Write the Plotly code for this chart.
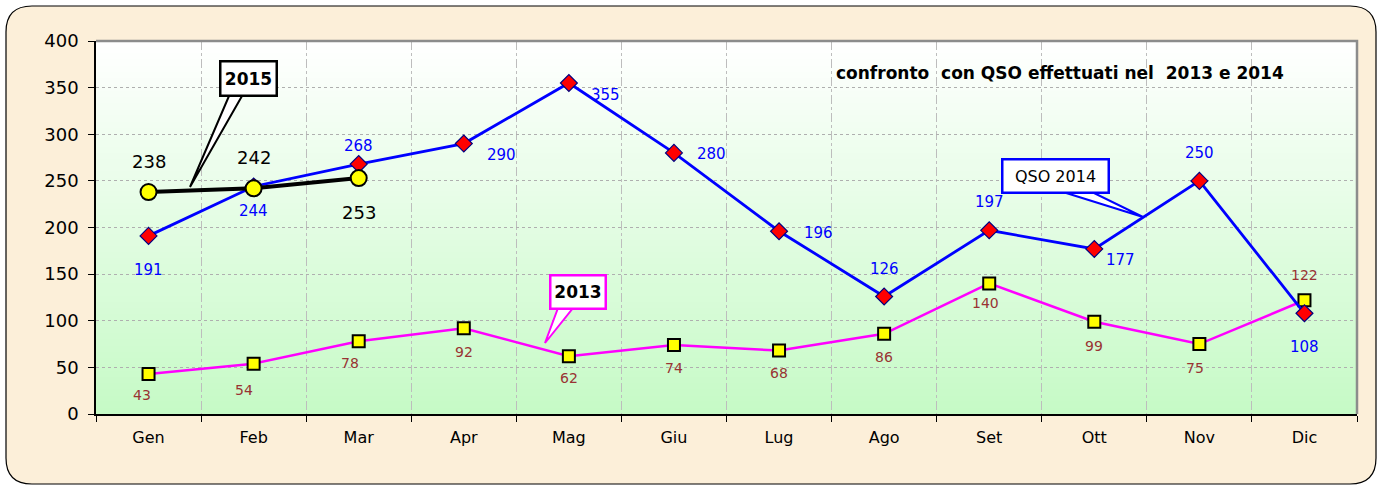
import plotly.graph_objects as go

months = ["Gen", "Feb", "Mar", "Apr", "Mag", "Giu", "Lug", "Ago", "Set", "Ott", "Nov", "Dic"]
qso_2014 = [191, 244, 268, 290, 355, 280, 196, 126, 197, 177, 250, 108]
qso_2013 = [43, 54, 78, 92, 62, 74, 68, 86, 140, 99, 75, 122]
months_2015 = ["Gen", "Feb", "Mar"]
qso_2015 = [238, 242, 253]
y_ticks = [0, 50, 100, 150, 200, 250, 300, 350, 400]

W, H = 1381, 486
L, R, T, B = 96, 24, 41, 72
PW, PH = W - L - R, H - T - B
FONT = "DejaVu Sans, Arial, sans-serif"


def px(x):
    return (x - L) / PW


def py(y):
    return (H - B - y) / PH


# label offsets (pixels) -- style only
off_2014 = [(0, -34), (0, -25), (0, 18), (38, -11), (37, -12), (38, -1),
            (39, -2), (0, 28), (0, 28), (26, -11), (0, 28), (0, -34)]
off_2013 = [(-7, -21), (-10, -26), (-9, -22), (0, -24), (0, -22), (0, -23),
            (0, -22), (0, -23), (-4, -20), (0, -24), (-4, -24), (0, 25)]
off_2015 = [(0, 31), (0, 31), (0, -34)]

fig = go.Figure()

fig.add_trace(go.Scatter(
    x=months, y=qso_2013, mode="lines+markers",
    line=dict(color="#FF00FF", width=2.5),
    marker=dict(symbol="square", size=12, color="#FFFF00", line=dict(color="black", width=2)),
    showlegend=False, cliponaxis=False))
fig.add_trace(go.Scatter(
    x=months, y=qso_2014, mode="lines+markers",
    line=dict(color="#0000FF", width=2.8),
    marker=dict(symbol="diamond", size=13, color="#FF0000", line=dict(color="#000080", width=1.2)),
    showlegend=False, cliponaxis=False))
fig.add_trace(go.Scatter(
    x=months_2015, y=qso_2015, mode="lines+markers",
    line=dict(color="black", width=4),
    marker=dict(symbol="circle", size=16, color="#FFFF00", line=dict(color="black", width=2)),
    showlegend=False, cliponaxis=False))

annotations = []
for m, v, (dx, dy) in zip(months, qso_2014, off_2014):
    annotations.append(dict(x=m, y=v, xref="x", yref="y", text=str(v), showarrow=False,
                            xshift=dx, yshift=dy, font=dict(family=FONT, size=15, color="#0000FF")))
for m, v, (dx, dy) in zip(months, qso_2013, off_2013):
    annotations.append(dict(x=m, y=v, xref="x", yref="y", text=str(v), showarrow=False,
                            xshift=dx, yshift=dy, font=dict(family=FONT, size=14, color="#993333")))
for m, v, (dx, dy) in zip(months_2015, qso_2015, off_2015):
    annotations.append(dict(x=m, y=v, xref="x", yref="y", text=str(v), showarrow=False,
                            xshift=dx, yshift=dy, font=dict(family=FONT, size=18, color="black")))

# title
annotations.append(dict(x=px(1060), y=py(73), xref="paper", yref="paper", showarrow=False,
                        xanchor="center", yanchor="middle",
                        text="<b>confronto  con QSO effettuati nel  2013 e 2014</b>",
                        font=dict(family=FONT, size=17, color="black")))

shapes = []
# outer rounded panel
x0, x1, y0, y1, r = 6, 1376, 6, 484, 26
path = (f"M {px(x0+r)},{py(y0)} L {px(x1-r)},{py(y0)} "
        f"Q {px(x1)},{py(y0)} {px(x1)},{py(y0+r)} L {px(x1)},{py(y1-r)} "
        f"Q {px(x1)},{py(y1)} {px(x1-r)},{py(y1)} L {px(x0+r)},{py(y1)} "
        f"Q {px(x0)},{py(y1)} {px(x0)},{py(y1-r)} L {px(x0)},{py(y0+r)} "
        f"Q {px(x0)},{py(y0)} {px(x0+r)},{py(y0)} Z")
shapes.append(dict(type="path", path=path, xref="paper", yref="paper",
                   fillcolor="#FCEFD9", line=dict(color="black", width=1.2), layer="below"))

# gradient plot background (white top -> light green bottom)
n = 60
top = (255, 255, 255)
bot = (198, 250, 198)
for i in range(n):
    f = (i + 0.5) / n  # 0 bottom, 1 top
    c = tuple(int(round(bot[k] + (top[k] - bot[k]) * f)) for k in range(3))
    shapes.append(dict(type="rect", xref="paper", yref="paper", x0=0, x1=1,
                       y0=i / n, y1=(i + 1) / n + 0.002, fillcolor="rgb(%d,%d,%d)" % c,
                       line=dict(width=0), layer="below"))

# plot frame (gray top/right)
shapes.append(dict(type="path", xref="paper", yref="paper",
                   path="M 0,1 L 1,1 L 1,0", line=dict(color="#8C8C8C", width=2.5), layer="above"))


def callout(box, tip, base, color, text, size):
    bx0, by0, bx1, by1 = box
    shapes.append(dict(type="path", xref="paper", yref="paper",
                       path=f"M {px(base[0])},{py(by1-1)} L {px(tip[0])},{py(tip[1])} L {px(base[1])},{py(by1-1)} Z",
                       fillcolor="white", line=dict(color=color, width=2), layer="above"))
    annotations.append(dict(x=px((bx0 + bx1) / 2), y=py((by0 + by1) / 2), xref="paper", yref="paper",
                            showarrow=False, text=text, xanchor="center", yanchor="middle",
                            width=bx1 - bx0 - 6, height=by1 - by0 - 6, borderpad=1,
                            bgcolor="white", bordercolor=color, borderwidth=2.5,
                            font=dict(family=FONT, size=size, color="black")))


callout((219, 61, 277, 97), (190, 187), (229, 242), "black", "<b>2015</b>", 17)
callout((549, 274, 606, 309), (545, 343), (558, 573), "#FF00FF", "<b>2013</b>", 17)
callout((1001, 158, 1109, 193), (1143, 217), (1063, 1092), "#0000FF", "QSO 2014", 16)

fig.update_layout(
    width=W, height=H,
    margin=dict(l=L, r=R, t=T, b=B),
    paper_bgcolor="white",
    plot_bgcolor="rgba(0,0,0,0)",
    shapes=shapes,
    annotations=annotations,
    xaxis=dict(type="category", categoryorder="array", categoryarray=months,
               range=[-0.5, 11.5], showgrid=True, gridcolor="#BDBDBD", griddash="dashdot",
               gridwidth=1, tickson="boundaries", ticks="outside", ticklen=6, tickcolor="black",
               ticklabelstandoff=8,
               showline=True, linecolor="black", linewidth=1.5,
               tickfont=dict(family=FONT, size=16, color="black"), zeroline=False),
    yaxis=dict(range=[0, 400], tickvals=y_ticks, showgrid=True, gridcolor="#AFAFAF", griddash="dot",
               gridwidth=1, ticks="outside", ticklen=6, tickcolor="black",
               ticklabelstandoff=6,
               showline=True, linecolor="black", linewidth=1.5, zeroline=False,
               tickfont=dict(family=FONT, size=18, color="black")),
)

fig.write_html("out.html", config={"displayModeBar": False},
               post_script="document.body.style.margin='0';document.body.style.overflow='hidden';")
